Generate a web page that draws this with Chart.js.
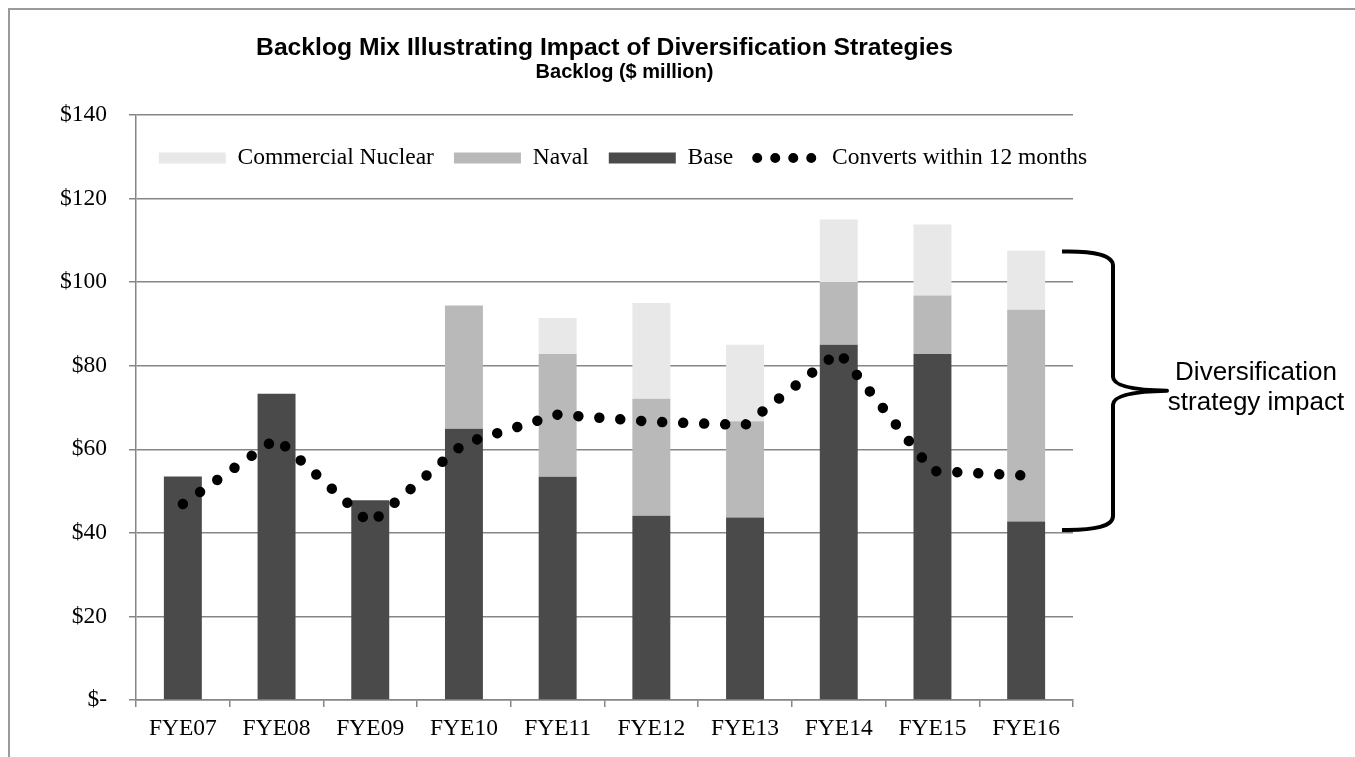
<!DOCTYPE html>
<html>
<head>
<meta charset="utf-8">
<script src="https://cdn.jsdelivr.net/npm/chart.js@4.4.1/dist/chart.umd.min.js"></script>
<style>
  html, body { margin: 0; padding: 0; background: #fff; overflow: hidden; }
  #wrap { position: relative; width: 1355px; height: 757px; }
</style>
</head>
<body>
<div id="wrap"><canvas id="backlogChart" width="1355" height="757"></canvas></div>
<script>
// values ($ million)
const years = ['FYE07', 'FYE08', 'FYE09', 'FYE10', 'FYE11', 'FYE12', 'FYE13', 'FYE14', 'FYE15', 'FYE16'];
const baseBacklog = [53.5, 73.3, 47.8, 64.9, 53.4, 44.1, 43.7, 85.0, 82.8, 42.7];
const navalBacklog = [0, 0, 0, 29.5, 29.4, 28.0, 23.0, 15.0, 14.0, 50.7];
const nuclearBacklog = [0, 0, 0, 0, 8.6, 22.9, 18.3, 15.0, 17.0, 14.1];
const convertsIn12 = [46.9, 62.6, 42.2, 61.4, 68.3, 66.6, 65.8, 83.3, 54.8, 53.7];
const yTickLabels = ['$-', '$20', '$40', '$60', '$80', '$100', '$120', '$140'];

// bracket on the right side (value range it spans)
const braceTop = 107.3;
const braceBottom = 40.7;
const braceText = ['Diversification', 'strategy impact'];

const gridGrey = '#868686';
const serif = { family: '"Liberation Serif", "Times New Roman", serif', size: 23.5 };
const sans = '"Liberation Sans", Arial, sans-serif';
const subtitleText = 'Backlog ($ million)';

const legendOrder = [2, 1, 0, 3];

// outer frame of the picture
const framePlugin = {
  id: 'frame',
  beforeDraw(chart) {
    const ctx = chart.ctx;
    ctx.save();
    ctx.strokeStyle = '#9a9a9a';
    ctx.lineWidth = 2;
    ctx.beginPath();
    ctx.moveTo(9, chart.height);
    ctx.lineTo(9, 9);
    ctx.lineTo(chart.width, 9);
    ctx.stroke();
    ctx.restore();
  }
};

// move the legend row inside the plot (between $140 and $120), nudge subtitle
const placeBoxes = {
  id: 'placeBoxes',
  afterLayout(chart) {
    const lg = chart.legend;
    const ca = chart.chartArea;
    const dx = (ca.left + ca.right) / 2 + 18.5 - (lg.left + lg.right) / 2;
    lg.left += dx; lg.right += dx;
    lg.top = ca.top + 11.25;
    lg.height = 60;
    lg.bottom = lg.top + lg.height;
    const sub = chart.boxes.find((b) => b.options && b.options.text === subtitleText);
    if (sub) { sub.left += 20; sub.right += 20; }
  }
};

const bracePlugin = {
  id: 'brace',
  afterDraw(chart) {
    const { ctx, chartArea, scales: { y } } = chart;
    const top = y.getPixelForValue(braceTop);
    const bottom = y.getPixelForValue(braceBottom);
    const mid = (top + bottom) / 2;
    const x0 = chartArea.right - 11;
    const x1 = x0 + 51;
    const x2 = x0 + 105;
    ctx.save();
    ctx.strokeStyle = '#000';
    ctx.lineWidth = 4;
    ctx.lineJoin = 'round';
    ctx.beginPath();
    ctx.moveTo(x0, top);
    ctx.quadraticCurveTo(x1, top - 1, x1, top + 14);
    ctx.lineTo(x1, mid - 14);
    ctx.quadraticCurveTo(x1, mid - 1, x2, mid);
    ctx.quadraticCurveTo(x1, mid + 1, x1, mid + 14);
    ctx.lineTo(x1, bottom - 14);
    ctx.quadraticCurveTo(x1, bottom + 1, x0, bottom);
    ctx.stroke();

    ctx.fillStyle = '#000';
    ctx.font = '26px ' + sans;
    ctx.textAlign = 'center';
    ctx.textBaseline = 'middle';
    ctx.fillText(braceText[0], x0 + 194, mid - 18);
    ctx.fillText(braceText[1], x0 + 194, mid + 12);
    ctx.restore();
  }
};

new Chart(document.getElementById('backlogChart'), {
  data: {
    labels: years,
    datasets: [
      {
        type: 'bar',
        label: 'Base',
        data: baseBacklog,
        backgroundColor: '#4a4a4a',
        barPercentage: 0.405,
        categoryPercentage: 1.0,
        stack: 'backlog',
        order: 1
      },
      {
        type: 'bar',
        label: 'Naval',
        data: navalBacklog,
        backgroundColor: '#b9b9b9',
        barPercentage: 0.405,
        categoryPercentage: 1.0,
        stack: 'backlog',
        order: 1
      },
      {
        type: 'bar',
        label: 'Commercial Nuclear',
        data: nuclearBacklog,
        backgroundColor: '#e8e8e8',
        barPercentage: 0.405,
        categoryPercentage: 1.0,
        stack: 'backlog',
        order: 1
      },
      {
        type: 'line',
        label: 'Converts within 12 months',
        data: convertsIn12,
        borderColor: '#000',
        backgroundColor: '#000',
        borderWidth: 10.5,
        borderDash: [0.01, 21],
        borderCapStyle: 'round',
        tension: 0,
        pointRadius: 0,
        fill: false,
        stack: 'converts',
        order: 0
      }
    ]
  },
  options: {
    responsive: false,
    animation: false,
    layout: { padding: { left: 0, right: 282, top: 0, bottom: 0 } },
    plugins: {
      title: {
        display: true,
        text: 'Backlog Mix Illustrating Impact of Diversification Strategies',
        fullSize: false,
        color: '#000',
        font: { family: sans, size: 24.7, weight: 'bold', lineHeight: 1.1 },
        padding: { top: 34.4, bottom: 0 }
      },
      subtitle: {
        display: true,
        text: subtitleText,
        fullSize: false,
        color: '#000',
        font: { family: sans, size: 20, weight: 'bold', lineHeight: 1.1 },
        padding: { top: 0, bottom: 30.4 }
      },
      legend: {
        position: 'top',
        align: 'center',
        maxHeight: 1,
        labels: {
          color: '#000',
          font: serif,
          padding: 20,
          usePointStyle: true,
          pointStyleWidth: 67,
          boxHeight: 11,
          sort: (a, b) => legendOrder.indexOf(a.datasetIndex) - legendOrder.indexOf(b.datasetIndex),
          generateLabels(chart) {
            const items = Chart.defaults.plugins.legend.labels.generateLabels(chart);
            items.forEach((it) => {
              if (it.datasetIndex === 3) {
                it.pointStyle = 'line';
                it.lineWidth = 10;
                it.lineCap = 'round';
                it.strokeStyle = '#000';
                it.lineDash = [0.01, 18];
                it.lineDashOffset = -4;
              } else {
                it.pointStyle = 'rect';
                it.lineWidth = 0;
              }
            });
            return items;
          }
        }
      },
      tooltip: { enabled: false }
    },
    scales: {
      x: {
        stacked: true,
        offset: true,
        grid: { offset: true, drawOnChartArea: false, drawTicks: true, tickLength: 7, color: gridGrey, lineWidth: 1.5 },
        border: { color: gridGrey, width: 1.5 },
        ticks: { color: '#000', font: serif, padding: 8, maxRotation: 0 },
        afterFit(scale) { scale.height = 57; }
      },
      y: {
        stacked: true,
        min: 0,
        max: 140,
        grid: { color: gridGrey, lineWidth: 1.5, tickLength: 7 },
        border: { color: gridGrey, width: 1.5 },
        ticks: {
          stepSize: 20,
          color: '#000',
          font: serif,
          padding: 22,
          callback: (value, index) => yTickLabels[index]
        },
        afterFit(scale) { scale.width = 136; }
      }
    }
  },
  plugins: [framePlugin, placeBoxes, bracePlugin]
});
</script>
</body>
</html>
